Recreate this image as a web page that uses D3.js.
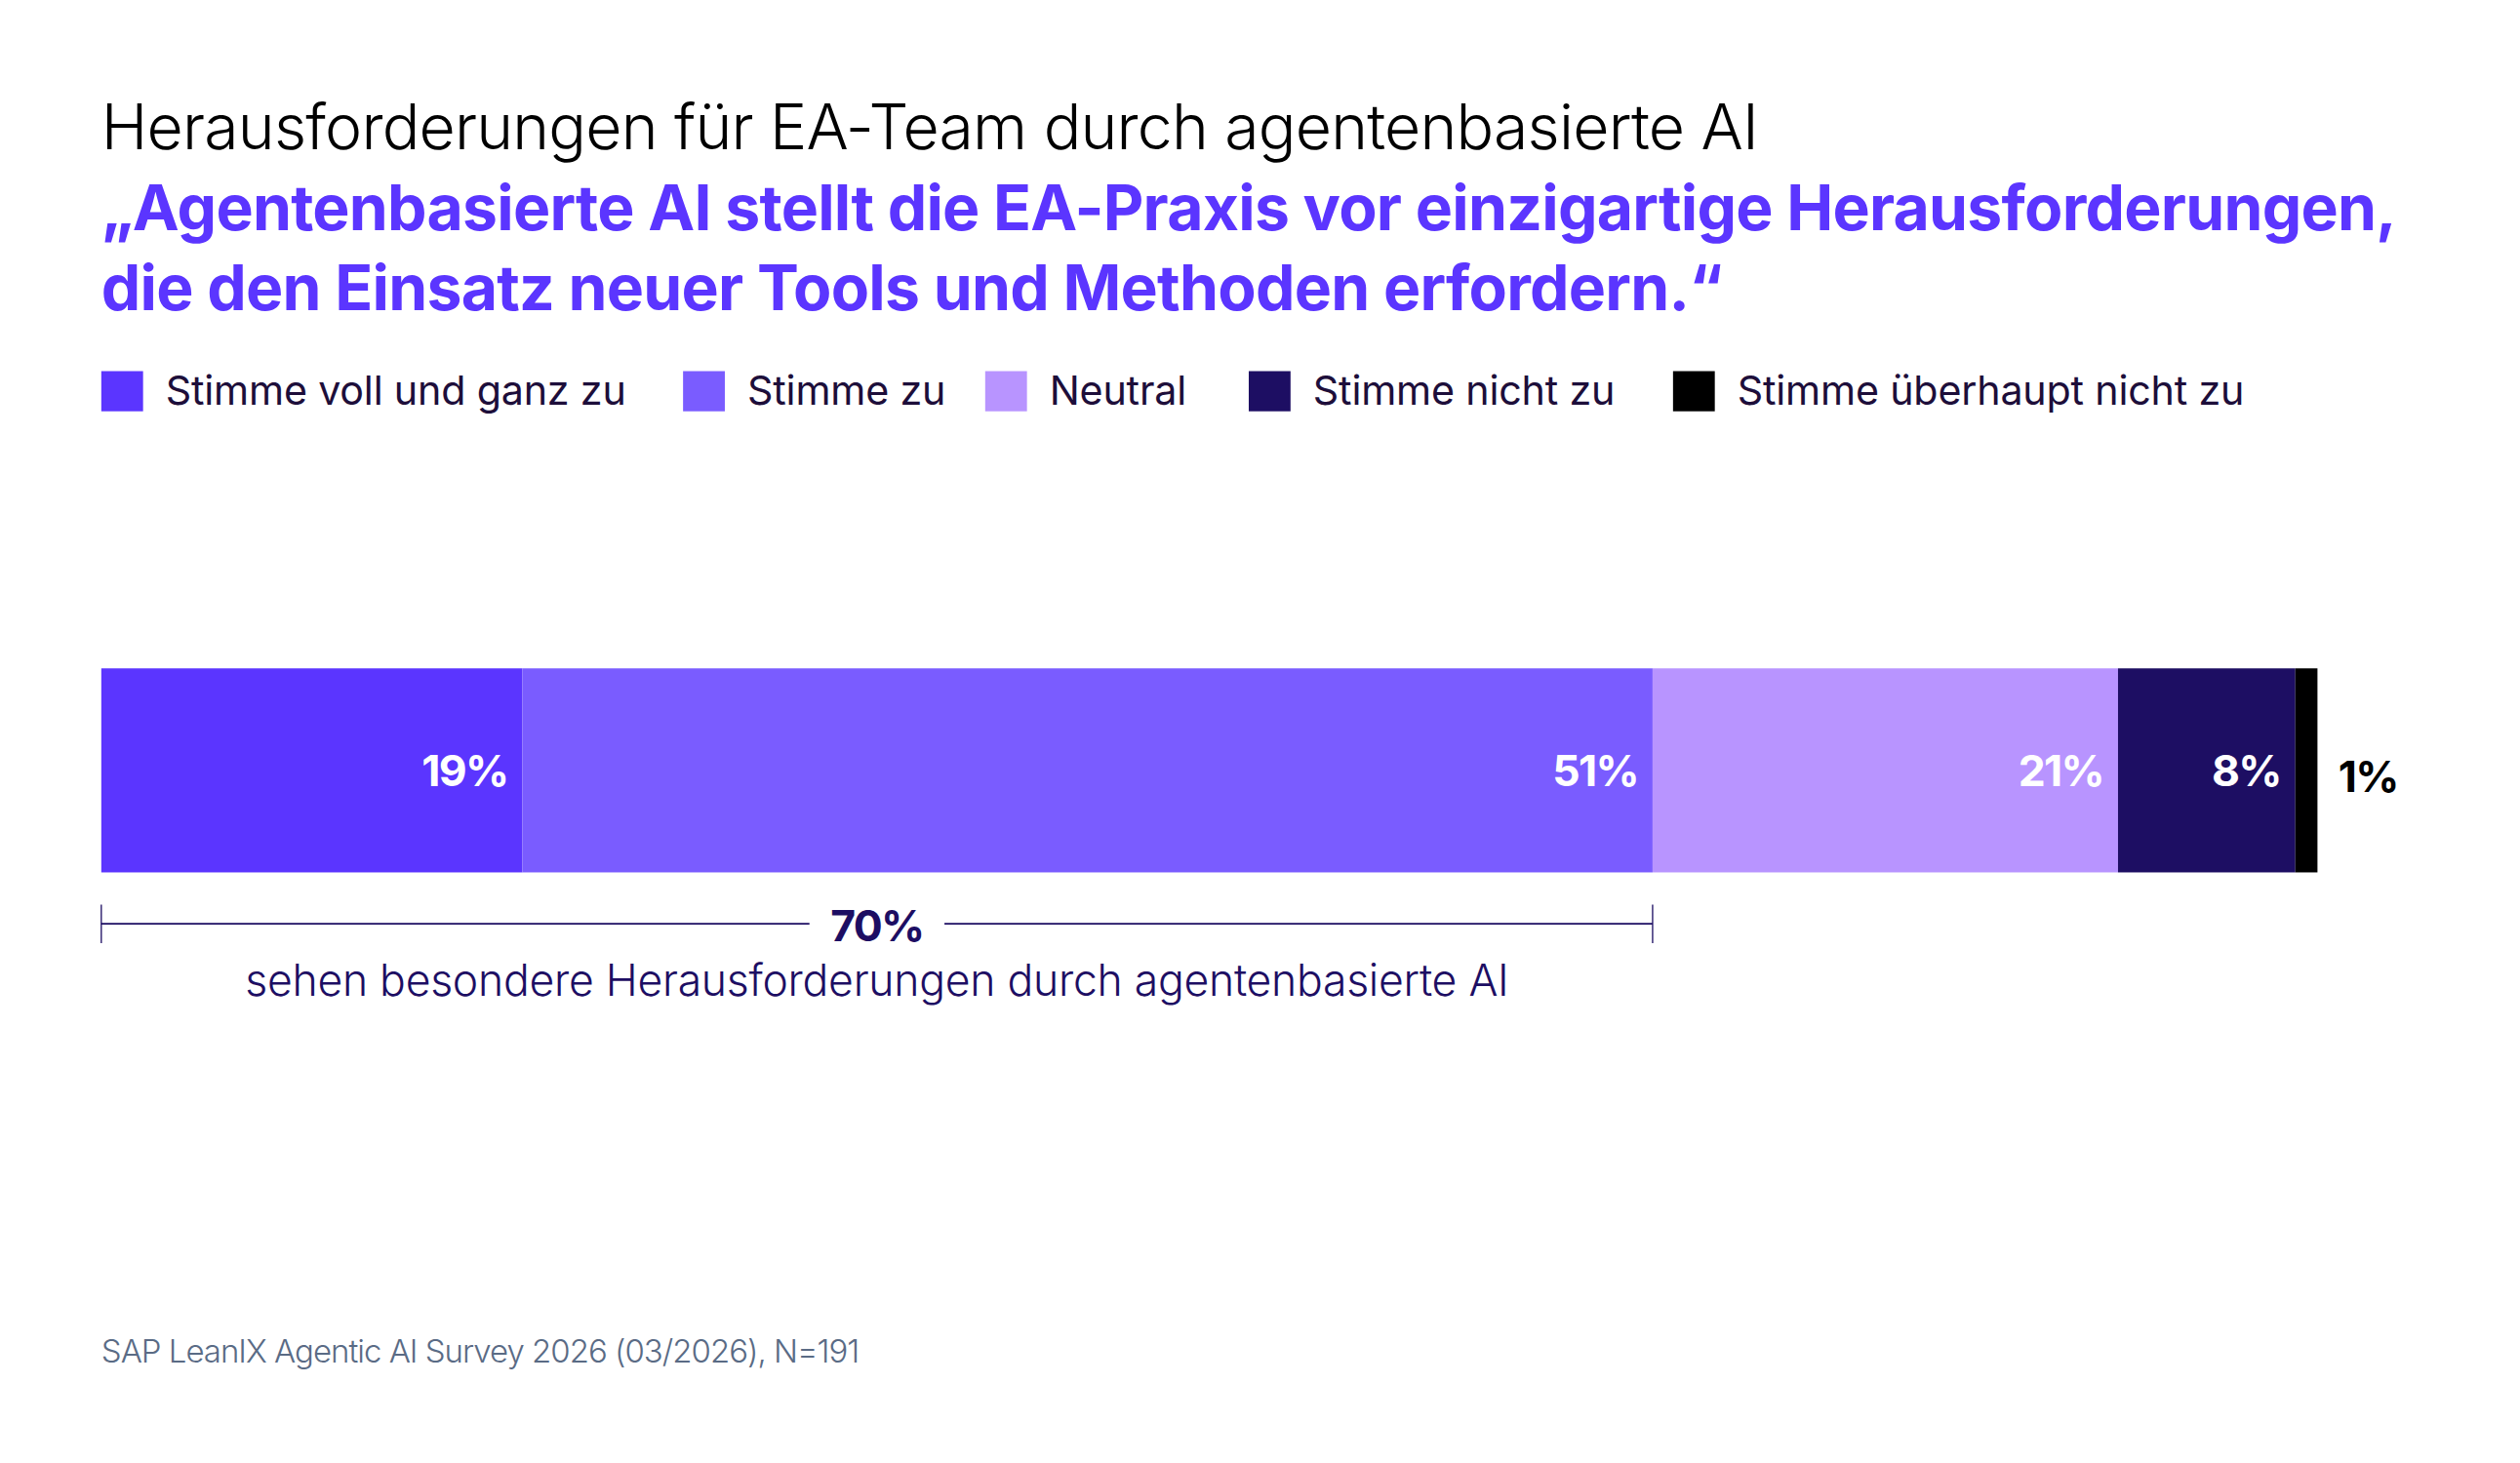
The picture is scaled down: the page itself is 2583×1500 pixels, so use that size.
<!DOCTYPE html>
<html><head><meta charset="utf-8">
<script src="https://cdn.jsdelivr.net/npm/d3@7"></script>
<style>html,body{margin:0;padding:0;overflow:hidden;background:#fff;font-family:Inter,"Noto Sans",sans-serif}svg{display:block}</style>
</head><body>
<svg id="chart"></svg>
<script>
var categories = ["Stimme voll und ganz zu", "Stimme zu", "Neutral", "Stimme nicht zu", "Stimme überhaupt nicht zu"];
var values = [19, 51, 21, 8, 1];
var colors = ["#5b35ff", "#7a5cff", "#b894ff", "#1d0e63", "#000000"];
var legendX = [63, 425, 613, 777, 1041];
var agreeTotal = 70;

var svg = d3.select("#chart")
  .attr("width", 2583).attr("height", 1500)
  .attr("viewBox", "0 0 1568 910.6");

svg.append("text").attr("x", 63).attr("y", 93)
  .attr("font-size", 39).attr("font-weight", 300).attr("fill", "#000")
  .attr("letter-spacing", -0.47)
  .text("Herausforderungen für EA-Team durch agentenbasierte AI");
svg.append("text").attr("x", 63).attr("y", 143)
  .attr("font-size", 39).attr("font-weight", 700).attr("fill", "#5b35ff")
  .attr("letter-spacing", -0.45)
  .text("„Agentenbasierte AI stellt die EA-Praxis vor einzigartige Herausforderungen,");
svg.append("text").attr("x", 63).attr("y", 193)
  .attr("font-size", 39).attr("font-weight", 700).attr("fill", "#5b35ff")
  .attr("letter-spacing", -0.45)
  .text("die den Einsatz neuer Tools und Methoden erfordern.“");

var legend = svg.selectAll(".leg").data(categories).enter().append("g")
  .attr("transform", (d, i) => "translate(" + legendX[i] + ",231)");
legend.append("rect").attr("width", 26).attr("height", 25).attr("fill", (d, i) => colors[i]);
legend.append("text").attr("x", 40).attr("y", 21).attr("font-size", 25)
  .attr("fill", "#1d0e3a").attr("letter-spacing", -0.1).text(d => d);

var x = d3.scaleLinear().domain([0, d3.sum(values)]).range([63, 1442]);
var stack = [];
var acc = 0;
values.forEach((v, i) => { stack.push({v: v, x0: acc, x1: acc + v, i: i}); acc += v; });

svg.selectAll(".seg").data(stack).enter().append("rect")
  .attr("x", d => x(d.x0)).attr("width", d => x(d.x1) - x(d.x0))
  .attr("y", 416).attr("height", 127)
  .attr("fill", d => colors[d.i]);

svg.selectAll(".lbl").data(stack).enter().append("text")
  .attr("x", d => d.i < 4 ? x(d.x1) - 9 : x(d.x1) + 13)
  .attr("y", d => d.i < 4 ? 489 : 493)
  .attr("text-anchor", d => d.i < 4 ? "end" : "start")
  .attr("font-size", 27).attr("font-weight", 700).attr("letter-spacing", -1)
  .attr("fill", d => d.i < 4 ? "#fff" : "#000")
  .text(d => d.v + "%");

var bx0 = x(0), bx1 = x(agreeTotal), bmid = (bx0 + bx1) / 2;
var navy = "#1d0e63";
svg.append("line").attr("x1", bx0).attr("x2", bmid - 42).attr("y1", 575).attr("y2", 575).attr("stroke", navy);
svg.append("line").attr("x1", bmid + 42).attr("x2", bx1).attr("y1", 575).attr("y2", 575).attr("stroke", navy);
[bx0, bx1].forEach(p => svg.append("line").attr("x1", p).attr("x2", p).attr("y1", 563).attr("y2", 587).attr("stroke", navy).attr("stroke-width", 0.8));
svg.append("text").attr("x", bmid).attr("y", 586).attr("text-anchor", "middle")
  .attr("font-size", 27).attr("font-weight", 700).attr("fill", navy).attr("letter-spacing", -1)
  .text(agreeTotal + "%");
svg.append("text").attr("x", bmid).attr("y", 620).attr("text-anchor", "middle")
  .attr("font-size", 27).attr("font-weight", 300).attr("fill", navy).attr("letter-spacing", -0.15)
  .text("sehen besondere Herausforderungen durch agentenbasierte AI");

svg.append("text").attr("x", 63).attr("y", 848)
  .attr("font-size", 20).attr("font-weight", 300).attr("fill", "#5a6b85").attr("letter-spacing", -0.6)
  .text("SAP LeanIX Agentic AI Survey 2026 (03/2026), N=191");
</script>
</body></html>
